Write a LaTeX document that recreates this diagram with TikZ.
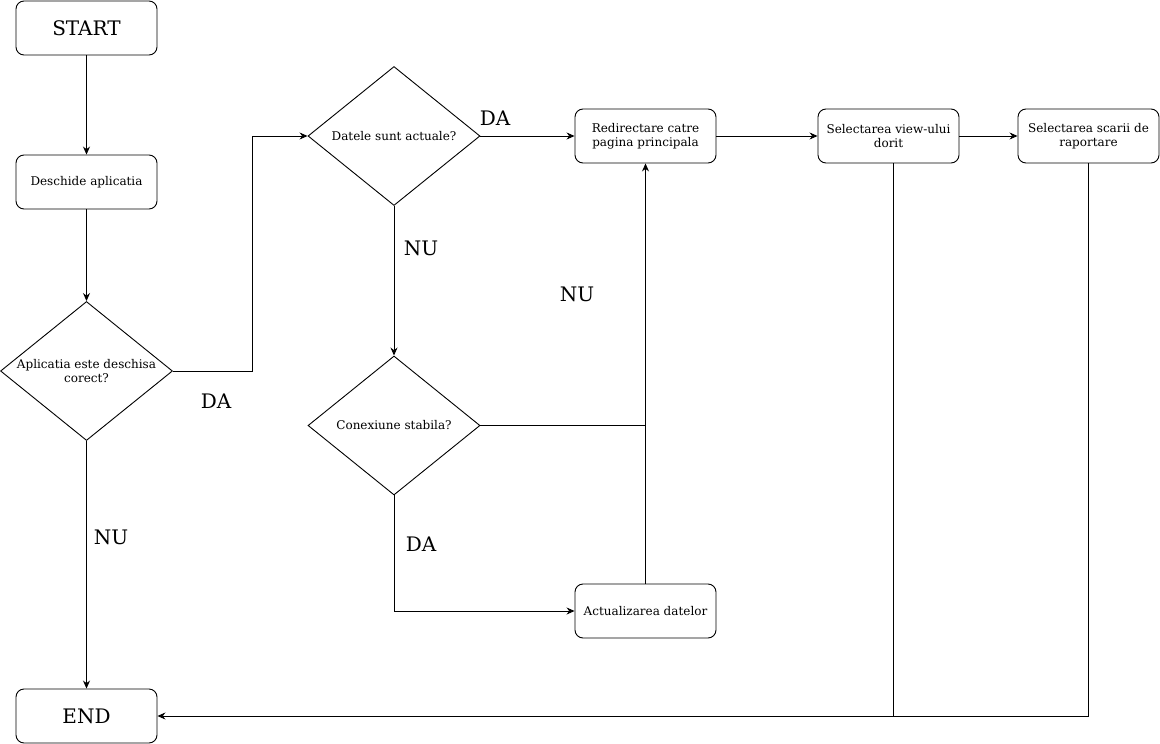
\documentclass[tikz,border=0pt]{standalone}
\usepackage{fontspec}
\setmainfont{DejaVu Serif}
\usetikzlibrary{shapes.geometric,arrows.meta}
\begin{document}
\begin{tikzpicture}[x=1pt,y=-1pt,
  every path/.style={line width=0.9pt},
  box/.style={draw,rounded corners=8pt,minimum width=141pt,minimum height=54pt,
    inner sep=2pt,align=center,font=\fontsize{12}{14}\selectfont},
  bigbox/.style={box,font=\fontsize{20}{24}\selectfont},
  decision/.style={draw,diamond,inner sep=0pt,minimum width=172pt,minimum height=139pt},
  dtext/.style={align=center,font=\fontsize{12}{14}\selectfont},
  tag/.style={font=\fontsize{20}{24}\selectfont},
  arr/.style={-{Stealth[length=8pt,width=7pt]}}]
\useasboundingbox (0,0) rectangle (1160,744);

% process boxes
\node[bigbox] (start) at (86.5,28) {START};
\node[box] (open) at (86.5,182) {Deschide aplicatia};
\node[box] (redir) at (645.5,136) {Redirectare catre\\pagina principala};
\node[box] (view) at (888.5,136) {Selectarea view-ului\\dorit};
\node[box] (scale) at (1088.5,136) {Selectarea scarii de\\raportare};
\node[box] (update) at (645.5,611) {Actualizarea datelor};
\node[bigbox] (end) at (86.5,716) {END};

% decisions
\node[decision] (ok) at (86.5,371) {};
\node[dtext] at (ok.center) {Aplicatia este deschisa\\corect?};
\node[decision] (fresh) at (394,136) {};
\node[dtext] at (fresh.center) {Datele sunt actuale?};
\node[decision] (conn) at (394,425.5) {};
\node[dtext] at (conn.center) {Conexiune stabila?};

% junction points
\coordinate (j1) at (252,371);
\coordinate (j2) at (645.5,425.5);
\coordinate (vdown) at (893,163);
\coordinate (vend) at (893,716);
\coordinate (sdown) at (1088,163);

% connectors
\draw[arr] (start) -- (open);
\draw[arr] (open) -- (ok);
\draw[arr] (ok.east) -- (j1) |- (fresh.west);
\draw[arr] (ok.south) -- (end.north);
\draw[arr] (fresh.east) -- (redir.west);
\draw[arr] (fresh.south) -- (conn.north);
\draw (conn.east) -- (j2);
\draw[arr] (conn.south) |- (update.west);
\draw[arr] (update.north) -- (redir.south);
\draw[arr] (redir.east) -- (view.west);
\draw[arr] (view.east) -- (scale.west);
\draw (sdown) |- (vend);
\draw[arr] (vdown) |- (end.east);

% branch labels
\node[tag] at (216,401) {DA};
\node[tag] at (111,537) {NU};
\node[tag] at (495,118) {DA};
\node[tag] at (421,248) {NU};
\node[tag] at (577,294) {NU};
\node[tag] at (421,544) {DA};
\end{tikzpicture}
\end{document}
